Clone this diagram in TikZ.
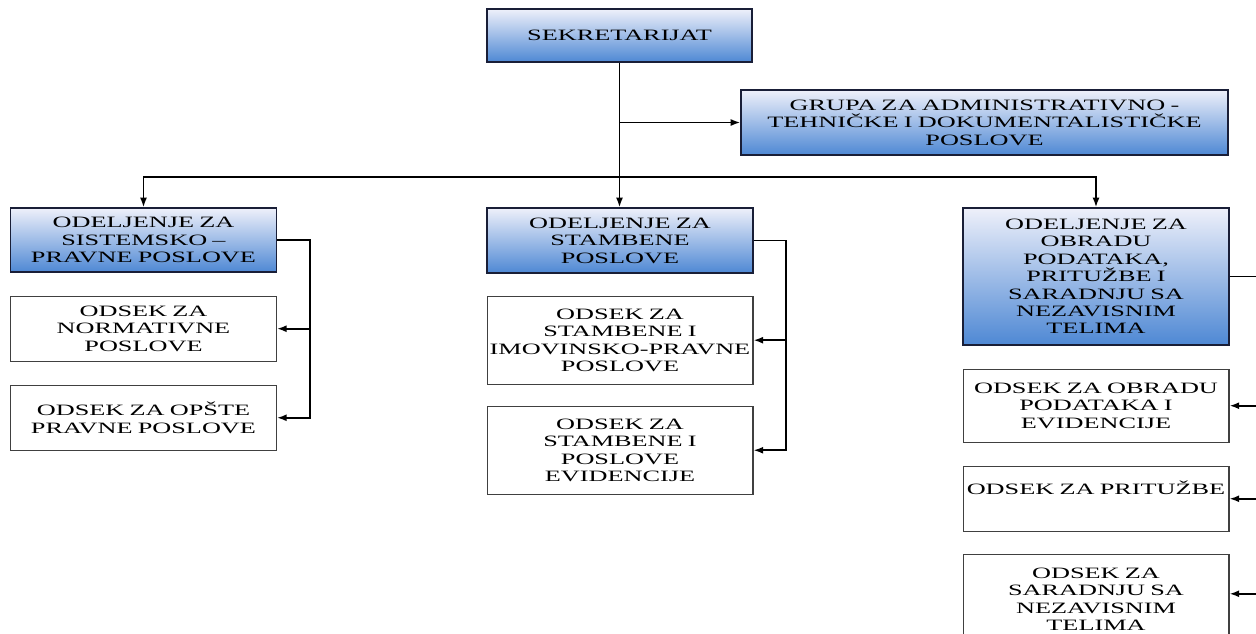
\documentclass[tikz,border=0pt]{standalone}
\usepackage{fontspec}
\setmainfont{Liberation Serif}[FakeStretch=1.66]
\usetikzlibrary{positioning,arrows.meta}
\definecolor{odtop}{RGB}{238,240,250}
\definecolor{odbot}{RGB}{78,136,212}
\definecolor{odline}{RGB}{25,30,55}
\tikzset{
   odbox/.style={draw=odline, line width=0.8pt, top color=odtop,
      bottom color=odbot, text width=5.32cm, inner xsep=0pt, align=center,
      font={\fontsize{9pt}{9.9pt}\selectfont}},
   odsek/.style={draw=black!75, line width=0.6pt, fill=white,
      text width=5.32cm, inner xsep=0pt, align=center,
      font={\fontsize{9pt}{9.9pt}\selectfont}},
   arr/.style={line width=1pt, -{Latex[length=5.5pt,width=4pt]}},
   ln/.style={line width=1pt}
}

\begin{document}
\begin{tikzpicture}[x=0.02cm,y=0.02cm]
   \useasboundingbox (0,0) rectangle (1256,-633);
   \clip (0,0) rectangle (1256,-633);

   % top
   \node[odbox, text width=5.30cm, minimum height=1.06cm] (sek)
      at (619.5,-35.5) {SEKRETARIJAT};
   \node[odbox, text width=9.74cm, minimum height=1.30cm] (grupa)
      at (984.5,-122.5)
      {GRUPA ZA ADMINISTRATIVNO -\\ TEHNIČKE I DOKUMENTALISTIČKE\\ POSLOVE};

   % odeljenja
   \node[odbox, minimum height=1.28cm] (od1) at (143.5,-240)
      {ODELJENJE ZA\\ SISTEMSKO –\\ PRAVNE POSLOVE};
   \node[odbox, minimum height=1.30cm] (od2) at (620,-240.5)
      {ODELJENJE ZA\\ STAMBENE\\ POSLOVE};
   \node[odbox, minimum height=2.74cm] (od3) at (1096,-276.5)
      {ODELJENJE ZA\\ OBRADU\\ PODATAKA,\\ PRITUŽBE I\\ SARADNJU SA\\
       NEZAVISNIM\\ TELIMA};

   % odseci
   \node[odsek, minimum height=1.30cm, below=0.46cm of od1] (ods11)
      {ODSEK ZA\\ NORMATIVNE\\ POSLOVE};
   \node[odsek, minimum height=1.30cm, below=0.46cm of ods11] (ods12)
      {ODSEK ZA OPŠTE\\ PRAVNE POSLOVE};

   \node[odsek, minimum height=1.76cm, below=0.44cm of od2] (ods21)
      {ODSEK ZA\\ STAMBENE I\\ \mbox{IMOVINSKO-PRAVNE}\\ POSLOVE};
   \node[odsek, minimum height=1.76cm, below=0.42cm of ods21] (ods22)
      {ODSEK ZA\\ STAMBENE I\\ POSLOVE\\ EVIDENCIJE};

   \node[odsek, minimum height=1.46cm, below=0.46cm of od3] (ods31)
      {ODSEK ZA OBRADU\\ PODATAKA I\\ EVIDENCIJE};
   \node[odsek, minimum height=1.30cm, below=0.46cm of ods31] (ods32)
      {ODSEK ZA PRITUŽBE\\ \strut};
   \node[odsek, minimum height=1.80cm, below=0.44cm of ods32] (ods33)
      {ODSEK ZA\\ SARADNJU SA\\ NEZAVISNIM\\ TELIMA};

   % helper points
   \coordinate (bus) at (sek.south |- 0,-177);
   \coordinate (r1) at (310,0);
   \coordinate (r2) at (786,0);
   \coordinate (rt) at (1262,0);
   \coordinate (a33) at ([yshift=-0.80cm]ods33.north east);

   % sekretarijat lines
   \draw[arr] (sek.south) -- (sek.south |- od2.north);
   \draw[arr] (sek.south |- grupa.west) -- (grupa.west);
   \draw[arr] (bus) -| (od1.north);
   \draw[arr] (bus) -| (od3.north);

   % odeljenje 1
   \draw[arr] (od1.east) -- (od1.east -| r1) |- (ods12.east);
   \draw[arr] (r1 |- ods11.east) -- (ods11.east);

   % odeljenje 2
   \draw[arr] (od2.east) -- (od2.east -| r2) |- (ods22.east);
   \draw[arr] (r2 |- ods21.east) -- (ods21.east);

   % odeljenje 3
   \draw[ln] (od3.east) -- (od3.east -| rt) -- (rt |- a33);
   \draw[arr] (rt |- ods31.east) -- (ods31.east);
   \draw[arr] (rt |- ods32.east) -- (ods32.east);
   \draw[arr] (a33 -| rt) -- (a33);
\end{tikzpicture}
\end{document}
